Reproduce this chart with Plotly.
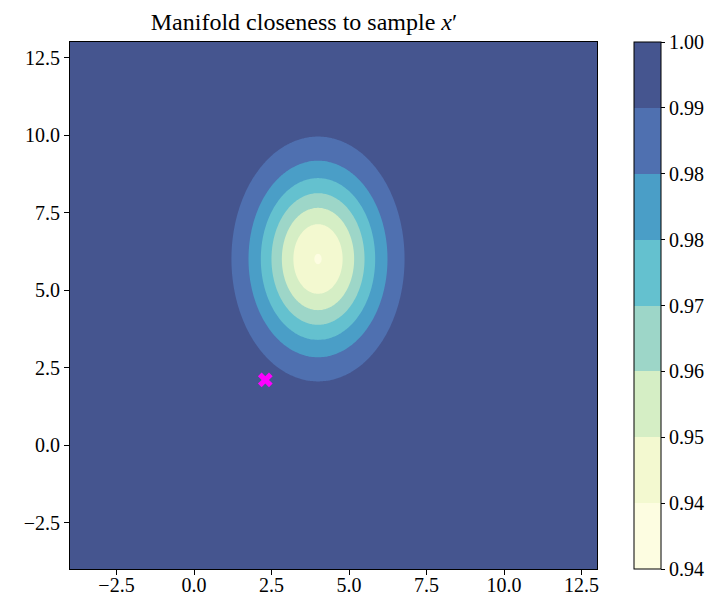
import numpy as np
import plotly.graph_objects as go

# ---- data ----
x_range = [-4, 13]
y_range = [-4, 13]
center = [4.0, 6.0]          # centre of the closeness bowl
spread = [1.414, 2.0]        # std-dev in x and y
depth = [0.0562]             # 1 - minimum closeness
levels = [0.936, 0.944, 0.952, 0.960, 0.968, 0.976, 0.984, 0.992, 1.000]
level_labels = ["0.94", "0.94", "0.95", "0.96", "0.97", "0.98", "0.98", "0.99", "1.00"]
band_colors = ["#fdfde1", "#f3f9d0", "#d5eec5", "#9dd6c8", "#64c1cf",
               "#4a9ec7", "#4f70b0", "#45558f"]   # lowest band -> highest band
sample_x = [2.3]
sample_y = [2.1]
axis_ticks = [-2.5, 0.0, 2.5, 5.0, 7.5, 10.0, 12.5]

# ---- build field ----
gx = np.linspace(x_range[0], x_range[1], 341)
gy = np.linspace(y_range[0], y_range[1], 341)
X, Y = np.meshgrid(gx, gy)
Z = 1 - depth[0] * np.exp(-(((X - center[0]) ** 2) / (2 * spread[0] ** 2)
                           + ((Y - center[1]) ** 2) / (2 * spread[1] ** 2)))

step = levels[1] - levels[0]
# contour colour map: fills evaluated at exact points k/9
cols = [band_colors[0]] + band_colors + [band_colors[-1]]
contour_scale = [[k / (len(cols) - 1), c] for k, c in enumerate(cols)]
# stepped scale for the colour bar
nb = len(band_colors)
bar_scale = []
for i, c in enumerate(band_colors):
    bar_scale.append([i / nb, c])
    bar_scale.append([(i + 1) / nb, c])

FONT = "Liberation Serif"
L, R, T, B = 70, 116, 42, 32
PW = 713 - L - R

fig = go.Figure()
fig.add_trace(go.Contour(
    x=gx, y=gy, z=Z,
    contours=dict(start=levels[0], end=levels[-1], size=step, coloring="fill", showlines=False),
    line=dict(width=0, smoothing=1),
    colorscale=contour_scale,
    showscale=False,
    hoverinfo="skip",
))
# invisible carrier for the colour bar
fig.add_trace(go.Scatter(
    x=[center[0]], y=[center[1]], mode="markers",
    marker=dict(size=1, opacity=0, color=[levels[-1]], cmin=levels[0], cmax=levels[-1],
                colorscale=bar_scale, showscale=True,
                colorbar=dict(
                    x=(634 - L) / PW, xanchor="left", xpad=0, ypad=0,
                    y=0.5, yanchor="middle", len=1, lenmode="fraction",
                    thickness=27, outlinewidth=1, outlinecolor="black",
                    tickmode="array", tickvals=levels, ticktext=level_labels,
                    ticks="outside", ticklen=4, tickcolor="black",
                    tickfont=dict(family=FONT, size=20, color="black"),
                )),
    hoverinfo="skip", showlegend=False,
))
fig.add_trace(go.Scatter(
    x=sample_x, y=sample_y, mode="markers",
    marker=dict(symbol="x", size=13, color="magenta", line=dict(width=0)),
    showlegend=False,
))

axis_common = dict(
    showgrid=False, zeroline=False, showline=True, linecolor="black", linewidth=1,
    mirror=True, ticks="outside", ticklen=5, tickcolor="black",
    tickmode="array", tickvals=axis_ticks,
    ticktext=[("\u2212" if t < 0 else "") + f"{abs(t):.1f}" for t in axis_ticks],
    tickfont=dict(family=FONT, size=20, color="black"),
)
fig.update_xaxes(range=x_range, ticklabelstandoff=-7, **axis_common)
fig.update_yaxes(range=y_range, **axis_common)

fig.update_layout(
    width=713, height=601,
    margin=dict(l=L, r=R, t=T, b=B, autoexpand=False),
    paper_bgcolor="white", plot_bgcolor="white",
    title=dict(text="Manifold closeness to sample <i>x</i>\u2032", x=304 / 713, xanchor="center",
               y=1 - 22 / 601, yanchor="middle",
               font=dict(family=FONT, size=24, color="black")),
    showlegend=False,
)
fig.write_html("out.html", config={"displayModeBar": False},
               post_script="document.body.style.margin='0';document.body.style.overflow='hidden';")
